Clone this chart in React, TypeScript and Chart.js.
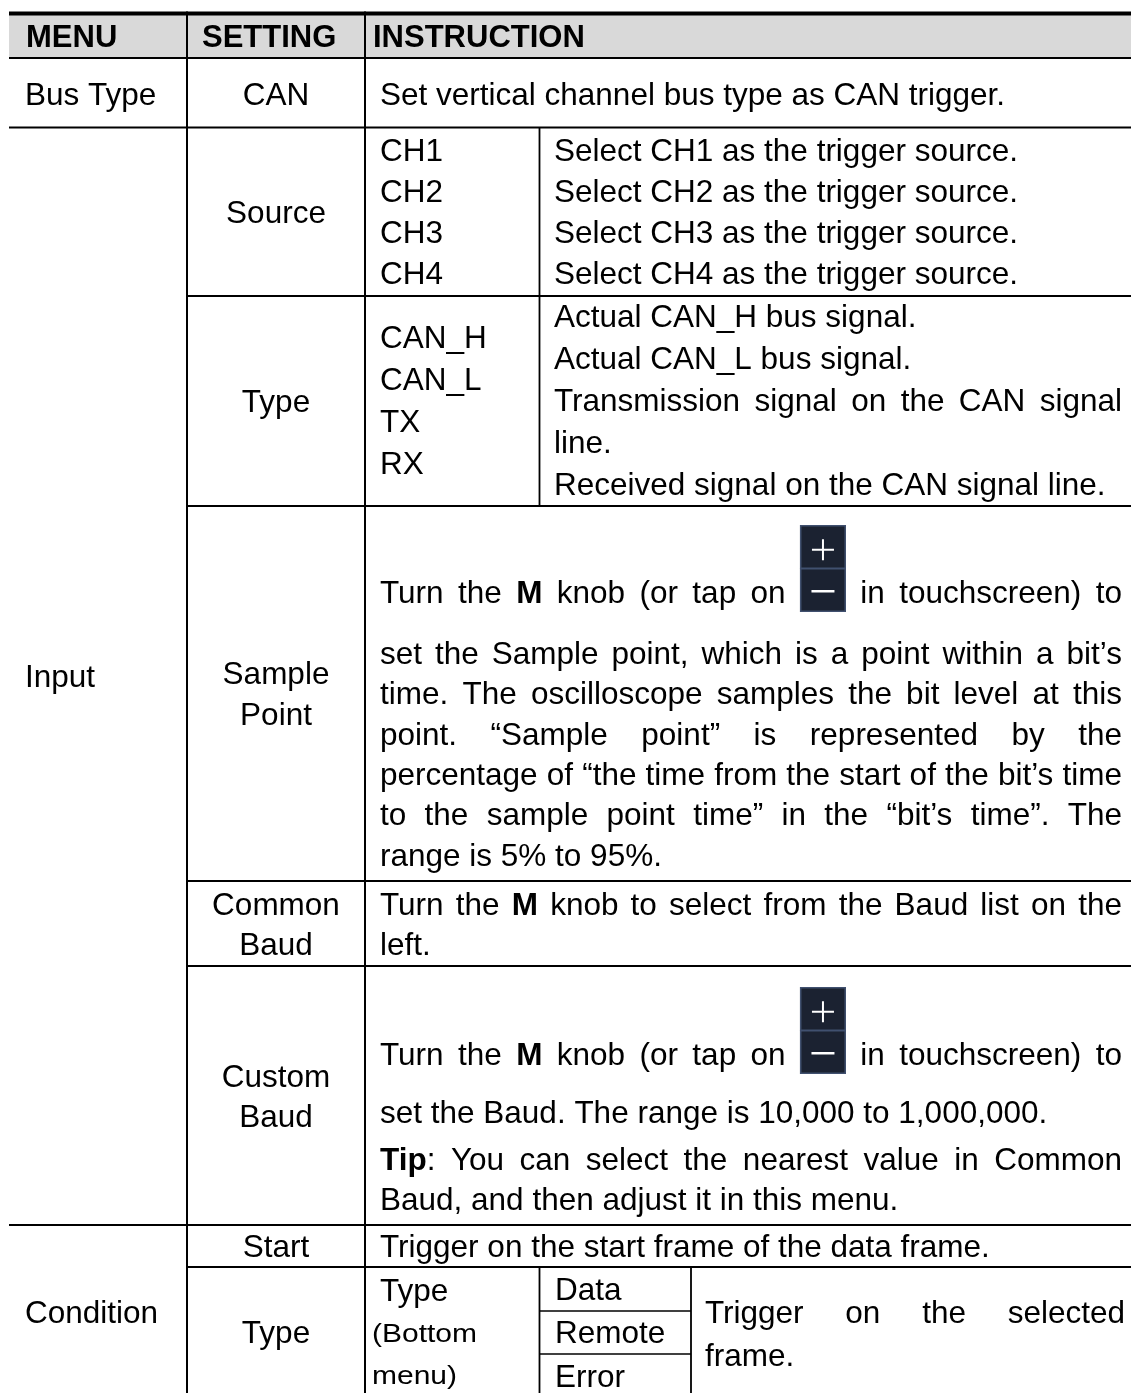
import React, { useEffect, useRef } from "react";
import { Chart, registerables } from "chart.js";

Chart.register(...registerables);

// ---------------- data (table contents) ----------------
const HEADERS = ["MENU", "SETTING", "INSTRUCTION"];
const MENUS = ["Bus Type", "Input", "Condition"];
const BUS_SETTING = ["CAN"];
const BUS_TEXT = ["Set vertical channel bus type as CAN trigger."];
const INPUT_SETTINGS = [["Source"], ["Type"], ["Sample", "Point"], ["Common", "Baud"], ["Custom", "Baud"]];
const SOURCE_CHANNELS = ["CH1", "CH2", "CH3", "CH4"];
const SOURCE_TEXT = [
  "Select CH1 as the trigger source.",
  "Select CH2 as the trigger source.",
  "Select CH3 as the trigger source.",
  "Select CH4 as the trigger source.",
];
const SIGNAL_TYPES = ["CAN_H", "CAN_L", "TX", "RX"];
const SIGNAL_TEXT = [
  "Actual CAN_H bus signal.",
  "Actual CAN_L bus signal.",
  "Transmission signal on the CAN signal",
  "line.",
  "Received signal on the CAN signal line.",
];
const SAMPLE_POINT_TEXT = [
  "Turn the **M** knob (or tap on {icon} in touchscreen) to",
  "set the Sample point, which is a point within a bit\u2019s",
  "time. The oscilloscope samples the bit level at this",
  "point. \u201CSample point\u201D is represented by the",
  "percentage of \u201Cthe time from the start of the bit\u2019s time",
  "to the sample point time\u201D in the \u201Cbit\u2019s time\u201D. The",
  "range is 5% to 95%.",
];
const COMMON_BAUD_TEXT = ["Turn the **M** knob to select from the Baud list on the", "left."];
const CUSTOM_BAUD_TEXT = [
  "Turn the **M** knob (or tap on {icon} in touchscreen) to",
  "set the Baud. The range is 10,000 to 1,000,000.",
  "**Tip**: You can select the nearest value in Common",
  "Baud, and then adjust it in this menu.",
];
const CONDITION_SETTINGS = [["Start"], ["Type"]];
const START_TEXT = ["Trigger on the start frame of the data frame."];
const TYPE_MENU_TITLE = ["Type"];
const TYPE_MENU_NOTE = ["(Bottom", "menu)"];
const FRAME_TYPES = ["Data", "Remote", "Error"];
const FRAME_TEXT = ["Trigger on the selected", "frame."];

// ---------------- layout (table geometry in scale units) ----------------
const W = 1131;
const H = 1393;
const COL = { left: 9, menu: 187, setting: 365, sub: 539.5, sub2: 691, right: 1131 };
const ROW = {
  top: 13.5, head: 58, bus: 127.5, source: 296, type: 506, sample: 881,
  common: 966, custom: 1225, start: 1267, data: 1311, remote: 1354, bottom: 1393,
};
const TEXT_RIGHT = 1122;
const FONT = '"Liberation Sans", Arial, Helvetica, sans-serif';
const BASE = { size: 31.5, sx: 1 };
const HEAD = { size: 31, sx: 1 };
const SMALL = { size: 25, sx: 1.2 };
const ICON_W = 46;
const SET_CX = (COL.menu + COL.setting) / 2;

type Seg = [number, number, number, number, number];
const GRID: Seg[] = [
  [COL.left, ROW.top, COL.right, ROW.top, 4],
  [COL.left, ROW.head, COL.right, ROW.head, 2],
  [COL.left, ROW.bus, COL.right, ROW.bus, 2],
  [COL.menu, ROW.source, COL.right, ROW.source, 2],
  [COL.menu, ROW.type, COL.right, ROW.type, 2],
  [COL.menu, ROW.sample, COL.right, ROW.sample, 2],
  [COL.menu, ROW.common, COL.right, ROW.common, 2],
  [COL.left, ROW.custom, COL.right, ROW.custom, 2],
  [COL.menu, ROW.start, COL.right, ROW.start, 2],
  [COL.sub, ROW.data, COL.sub2, ROW.data, 1.6],
  [COL.sub, ROW.remote, COL.sub2, ROW.remote, 1.6],
  [COL.menu, ROW.top - 2, COL.menu, ROW.bottom, 2],
  [COL.setting, ROW.top - 2, COL.setting, ROW.bottom, 2],
  [COL.sub, ROW.bus, COL.sub, ROW.type, 1.8],
  [COL.sub, ROW.start, COL.sub, ROW.bottom, 1.8],
  [COL.sub2, ROW.start, COL.sub2, ROW.bottom, 1.8],
];

type Block = {
  lines: string[];
  x: number;
  baselines: number[];
  align?: "left" | "center";
  justifyTo?: number;
  justify?: number[];
  bold?: boolean;
  font?: { size: number; sx: number };
};

const BLOCKS: Block[] = [
  { lines: [HEADERS[0]], x: 26, baselines: [46.5], bold: true, font: HEAD },
  { lines: [HEADERS[1]], x: 202, baselines: [46.5], bold: true, font: HEAD },
  { lines: [HEADERS[2]], x: 373, baselines: [46.5], bold: true, font: HEAD },
  { lines: [MENUS[0]], x: 25, baselines: [104.5] },
  { lines: [MENUS[1]], x: 25, baselines: [687] },
  { lines: [MENUS[2]], x: 25, baselines: [1323] },
  { lines: BUS_SETTING, x: SET_CX, baselines: [104.5], align: "center" },
  { lines: BUS_TEXT, x: 380, baselines: [104.5] },
  { lines: INPUT_SETTINGS[0], x: SET_CX, baselines: [223], align: "center" },
  { lines: INPUT_SETTINGS[1], x: SET_CX, baselines: [412], align: "center" },
  { lines: INPUT_SETTINGS[2], x: SET_CX, baselines: [684, 725], align: "center" },
  { lines: INPUT_SETTINGS[3], x: SET_CX, baselines: [915, 955], align: "center" },
  { lines: INPUT_SETTINGS[4], x: SET_CX, baselines: [1087, 1127], align: "center" },
  { lines: SOURCE_CHANNELS, x: 380, baselines: [161, 202, 243, 284] },
  { lines: SOURCE_TEXT, x: 554, baselines: [161, 202, 243, 284] },
  { lines: SIGNAL_TYPES, x: 380, baselines: [348, 390, 432, 474] },
  { lines: SIGNAL_TEXT, x: 554, baselines: [327, 369, 411, 453, 495], justifyTo: TEXT_RIGHT, justify: [2] },
  { lines: SAMPLE_POINT_TEXT, x: 380, baselines: [603, 664, 704, 745, 785, 825, 866], justifyTo: TEXT_RIGHT, justify: [0, 1, 2, 3, 4, 5] },
  { lines: COMMON_BAUD_TEXT, x: 380, baselines: [915, 955], justifyTo: TEXT_RIGHT, justify: [0] },
  { lines: CUSTOM_BAUD_TEXT, x: 380, baselines: [1065, 1123, 1170, 1210], justifyTo: TEXT_RIGHT, justify: [0, 2] },
  { lines: CONDITION_SETTINGS[0], x: SET_CX, baselines: [1257], align: "center" },
  { lines: CONDITION_SETTINGS[1], x: SET_CX, baselines: [1343], align: "center" },
  { lines: START_TEXT, x: 380, baselines: [1257] },
  { lines: TYPE_MENU_TITLE, x: 380, baselines: [1301] },
  { lines: TYPE_MENU_NOTE, x: 372, baselines: [1342, 1384], font: SMALL },
  { lines: FRAME_TYPES, x: 555, baselines: [1300, 1343, 1387] },
  { lines: FRAME_TEXT, x: 705, baselines: [1323, 1366], justifyTo: 1125, justify: [0] },
];

// ---------------- drawing helpers ----------------
type Run = { text: string; bold: boolean };
type Word = { runs: Run[]; icon: boolean };

function parseWords(line: string): Word[] {
  return line.split(" ").filter(Boolean).map((tok) => {
    if (tok === "{icon}") return { runs: [], icon: true };
    const runs: Run[] = [];
    tok.split(/(\*\*[^*]+\*\*)/).forEach((p) => {
      if (!p) return;
      if (p.startsWith("**")) runs.push({ text: p.slice(2, -2), bold: true });
      else runs.push({ text: p, bold: false });
    });
    return { runs, icon: false };
  });
}

function fontStr(bold: boolean, size: number) {
  return `${bold ? "bold " : ""}${size}px ${FONT}`;
}

function drawIcon(ctx: CanvasRenderingContext2D, x: number, baseline: number, k: number) {
  const top = baseline - 78 * k;
  const w = ICON_W * k;
  const h = 87 * k;
  const half = h / 2;
  ctx.save();
  ctx.fillStyle = "#1b2231";
  ctx.fillRect(x, top, w, h);
  ctx.strokeStyle = "#40506f";
  ctx.lineWidth = 1.5;
  ctx.strokeRect(x + 0.75, top + 0.75, w - 1.5, half - 1);
  ctx.strokeRect(x + 0.75, top + half + 0.25, w - 1.5, half - 1);
  ctx.strokeStyle = "#ffffff";
  ctx.lineWidth = 2;
  const cx = x + w / 2;
  const cy1 = top + half / 2 + 3 * k;
  const cy2 = top + half + half / 2 + 1 * k;
  ctx.beginPath();
  ctx.moveTo(cx - 11 * k, cy1);
  ctx.lineTo(cx + 11 * k, cy1);
  ctx.moveTo(cx, cy1 - 10.5 * k);
  ctx.lineTo(cx, cy1 + 10.5 * k);
  ctx.stroke();
  ctx.lineWidth = 2.5;
  ctx.beginPath();
  ctx.moveTo(cx - 11.5 * k, cy2);
  ctx.lineTo(cx + 11.5 * k, cy2);
  ctx.stroke();
  ctx.restore();
}

const tablePlugin = {
  id: "tableCells",
  beforeDatasetsDraw(chart: any) {
    const { ctx, scales } = chart;
    const xs = scales.x;
    const ys = scales.y;
    ctx.save();
    ctx.fillStyle = "#d9d9d9";
    const x0 = xs.getPixelForValue(COL.left);
    const x1 = xs.getPixelForValue(COL.right);
    const y0 = ys.getPixelForValue(ROW.top);
    const y1 = ys.getPixelForValue(ROW.head);
    ctx.fillRect(x0, y0, x1 - x0, y1 - y0);
    ctx.restore();
  },
  afterDatasetsDraw(chart: any) {
    const { ctx, scales } = chart;
    const xs = scales.x;
    const ys = scales.y;
    const kx = xs.getPixelForValue(1) - xs.getPixelForValue(0);
    const ky = ys.getPixelForValue(1) - ys.getPixelForValue(0);
    ctx.save();
    ctx.fillStyle = "#000000";
    ctx.textBaseline = "alphabetic";
    ctx.textAlign = "left";
    BLOCKS.forEach((b) => {
      const f = b.font || BASE;
      const size = f.size * ky;
      const sx = f.sx;
      b.lines.forEach((line, li) => {
        const words = parseWords(line);
        const widths = words.map((w) => {
          if (w.icon) return ICON_W * kx;
          return w.runs.reduce((s, r) => {
            ctx.font = fontStr(r.bold || !!b.bold, size);
            return s + ctx.measureText(r.text).width * sx;
          }, 0);
        });
        ctx.font = fontStr(!!b.bold, size);
        const spaceW = ctx.measureText(" ").width * sx;
        const sum = widths.reduce((a, c) => a + c, 0);
        const left = xs.getPixelForValue(b.x);
        const by = ys.getPixelForValue(b.baselines[li]);
        let gap = spaceW;
        let x = left;
        if (b.justifyTo !== undefined && b.justify && b.justify.includes(li) && words.length > 1) {
          const right = xs.getPixelForValue(b.justifyTo);
          gap = (right - left - sum) / (words.length - 1);
        }
        if (b.align === "center") {
          x = left - (sum + spaceW * (words.length - 1)) / 2;
        }
        words.forEach((w, wi) => {
          if (w.icon) {
            drawIcon(ctx, x, by, ky);
          } else {
            let rx = x;
            w.runs.forEach((r) => {
              ctx.font = fontStr(r.bold || !!b.bold, size);
              ctx.save();
              ctx.translate(rx, by);
              ctx.scale(sx, 1);
              ctx.fillText(r.text, 0, 0);
              ctx.restore();
              rx += ctx.measureText(r.text).width * sx;
            });
          }
          x += widths[wi] + gap;
        });
      });
    });
    ctx.restore();
  },
};

export default function App() {
  const ref = useRef<HTMLCanvasElement | null>(null);
  useEffect(() => {
    if (!ref.current) return;
    const datasets = GRID.map(([xa, ya, xb, yb, w]) => ({
      data: [
        { x: xa, y: ya },
        { x: xb, y: yb },
      ],
      showLine: true,
      borderColor: "#000000",
      borderWidth: w,
      pointRadius: 0,
      pointHoverRadius: 0,
      tension: 0,
      fill: false,
      clip: false as any,
    }));
    const chart = new Chart(ref.current, {
      type: "scatter",
      data: { datasets },
      options: {
        animation: false,
        responsive: false,
        maintainAspectRatio: false,
        devicePixelRatio: 1,
        layout: { padding: 0 },
        events: [],
        plugins: { legend: { display: false }, tooltip: { enabled: false }, title: { display: false } },
        scales: {
          x: { type: "linear", display: false, min: 0, max: W },
          y: { type: "linear", display: false, min: 0, max: H, reverse: true },
        },
      },
      plugins: [tablePlugin],
    });
    return () => chart.destroy();
  }, []);
  return (
    <div style={{ position: "absolute", left: 0, top: 0, width: W, height: H, background: "#ffffff" }}>
      <canvas ref={ref} width={W} height={H} style={{ display: "block", width: W, height: H }} />
    </div>
  );
}
